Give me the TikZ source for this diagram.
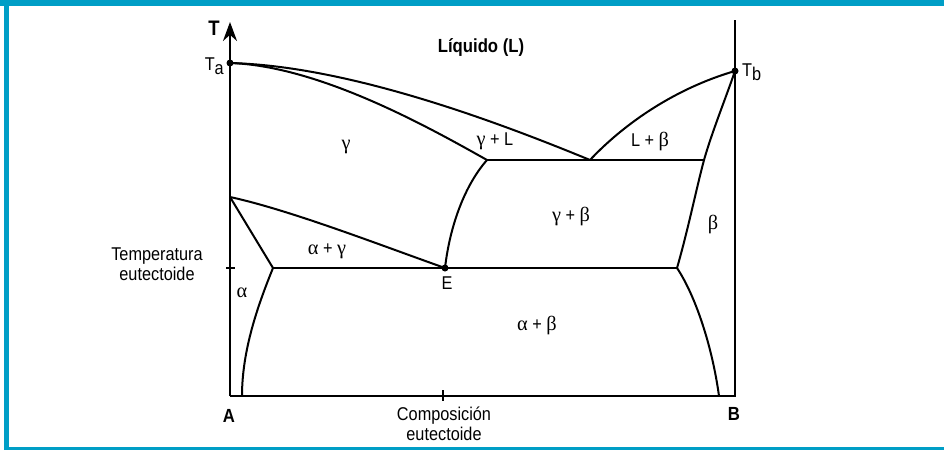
\documentclass[tikz,border=0pt]{standalone}
\usepackage{fontspec}
\setmainfont{Liberation Sans}[FakeStretch=0.88]
\newfontfamily\grk{Liberation Serif}[Scale=1.1]
\newcommand{\gkalpha}{{\grk α}}
\newcommand{\gkbeta}{{\grk β}}
\newcommand{\gkgamma}{{\grk γ}}
\usetikzlibrary{arrows.meta}
\definecolor{framecyan}{RGB}{0,158,198}
\begin{document}
\begin{tikzpicture}[x=1pt,y=-1pt,
  lbl/.style={inner sep=0pt, font=\fontsize{18.5}{19.5}\selectfont},
  blbl/.style={inner sep=0pt, font=\fontsize{19}{20}\selectfont\bfseries},
  curve/.style={line width=2pt, line join=round},
  axisline/.style={line width=2.2pt},
  dot/.style={circle, fill=black, inner sep=0pt, minimum size=7pt}]
\useasboundingbox (0,0) rectangle (944,450);
% frame
\fill[framecyan] (0,0) rectangle (944,6);
\fill[framecyan] (4,0) rectangle (9,450);
\fill[framecyan] (4,447) rectangle (944,450);
% key points
\coordinate (O) at (230,396);
\coordinate (Ttop) at (230,22);
\coordinate (BB) at (735,396);
\coordinate (Btop) at (735,20);
\coordinate (Ta) at (230,63);
\coordinate (Tb) at (735,71);
\coordinate (E) at (445,268);
\coordinate (AE) at (273,268);
\coordinate (BE) at (677,268);
\coordinate (G) at (230,197);
\coordinate (P1) at (487,160);
\coordinate (P2) at (590,160);
\coordinate (P3) at (704,160);
\coordinate (Abot) at (242,396);
\coordinate (Bbot) at (719,396);
\coordinate (tickL1) at (226,268);
\coordinate (tickL2) at (235,268);
\coordinate (tickB1) at (443,390);
\coordinate (tickB2) at (443,401);
% axes
\draw[axisline, -{Stealth[length=19pt,width=14pt]}] (O) -- (Ttop);
\draw[axisline] (O) -- (BB) -- (Btop);
\draw[axisline] (tickL1) -- (tickL2);
\draw[axisline] (tickB1) -- (tickB2);
% liquidus and solidus
\draw[curve] (Ta) .. controls (350,66) and (500,123) .. (P2);
\draw[curve] (Ta) .. controls (320,66) and (430,128) .. (P1);
\draw[curve] (P2) .. controls (620,128) and (670,90) .. (Tb);
\draw[curve] (Tb) .. controls (725,100) and (712,132) .. (P3) .. controls (696,190) and (688,230) .. (BE);
\draw[curve] (P1) -- (P3);
% eutectoid region
\draw[curve] (AE) -- (BE);
\draw[curve] (G) -- (AE);
\draw[curve] (G) .. controls (290,210) and (380,245) .. (E);
\draw[curve] (E) .. controls (450,225) and (465,185) .. (P1);
\draw[curve] (AE) .. controls (258,305) and (242,350) .. (Abot);
\draw[curve] (BE) .. controls (695,295) and (712,345) .. (Bbot);
% dots
\node[dot] (dTa) at (Ta) {};
\node[dot] (dTb) at (Tb) {};
\node[dot] (dE) at (E) {};
% labels
\node[inner sep=0pt, font=\fontsize{21}{22}\selectfont\bfseries] (lT) at (214,28) {T};
\node[lbl, anchor=east] (lTa) at (224,66) {T\raisebox{-0.4ex}{a}};
\node[lbl, anchor=west] (lTb) at (742,72) {T\raisebox{-0.4ex}{b}};
\node[blbl] (lLiq) at (481,48) {Líquido (L)};
\node[lbl] (lg) at (346,147) {\gkgamma};
\node[lbl] (lgL) at (495,141) {\gkgamma{} + L};
\node[lbl] (lLb) at (650,141) {L + \gkbeta};
\node[lbl] (lgb) at (571,216) {\gkgamma{} + \gkbeta};
\node[lbl] (lb) at (713,224) {\gkbeta};
\node[lbl] (lag) at (327,251) {\gkalpha{} + \gkgamma};
\node[lbl] (lE) at (447,283) {E};
\node[lbl] (la) at (242,293) {\gkalpha};
\node[lbl] (lab) at (537,325) {\gkalpha{} + \gkbeta};
\node[lbl, align=center] (lTemp) at (157,264) {Temperatura\\eutectoide};
\node[lbl, align=center] (lComp) at (444,424) {Composición\\eutectoide};
\node[blbl] (lA) at (229,416) {A};
\node[blbl] (lB) at (734,414) {B};
\end{tikzpicture}
\end{document}
